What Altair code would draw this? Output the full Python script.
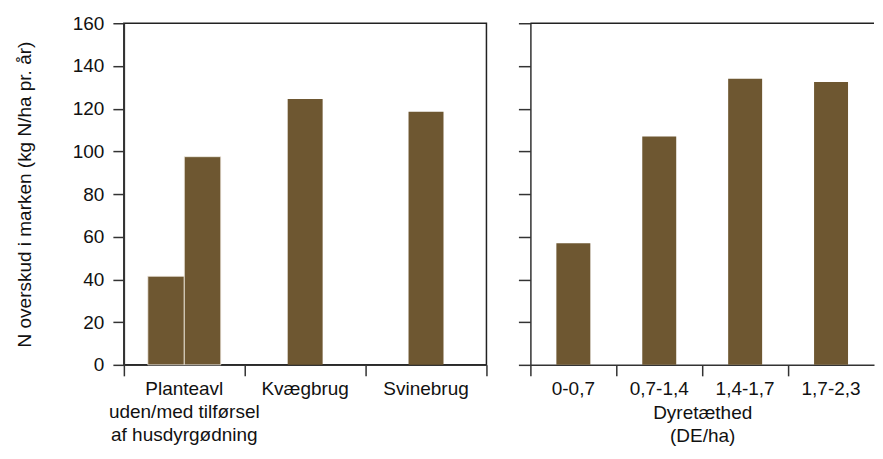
import altair as alt
import pandas as pd

# Data
groups = ["Planteavl|uden/med tilførsel|af husdyrgødning", "Kvægbrug", "Svinebrug"]
plante_sub = ["uden", "med"]
plante_vals = [41.5, 97.5]
farm_types = ["Kvægbrug", "Svinebrug"]
farm_vals = [124.5, 118.5]
density = ["0-0,7", "0,7-1,4", "1,4-1,7", "1,7-2,3"]
density_vals = [57.0, 107.0, 134.0, 132.5]

y_ticks = list(range(0, 161, 20))
y_top = [160]
BAR = "#6e5731"
FONT = "Liberation Sans"
FS = 19

plante_df = pd.DataFrame({"g": [groups[0]] * 2, "s": plante_sub, "v": plante_vals})
farm_df = pd.DataFrame({"g": farm_types, "v": farm_vals})
dens_df = pd.DataFrame({"d": density, "v": density_vals})
top_df = pd.DataFrame({"v": y_top})

LW, RW, H = 363, 344, 342

x_left = alt.X(
    "g:N",
    scale=alt.Scale(domain=groups, paddingInner=0, paddingOuter=0),
    axis=alt.Axis(title=None, labelAngle=0, bandPosition=1, tickExtra=True,
                  labelExpr="split(datum.label, '|')", tickSize=11,
                  labelPadding=4, labelLineHeight=23, labelOverlap=False),
)
y_left = alt.Y(
    "v:Q",
    scale=alt.Scale(domain=[0, 160], nice=False),
    axis=alt.Axis(values=y_ticks, title="N overskud i marken (kg N/ha pr. år)",
                  tickSize=11, labelPadding=9, titlePadding=38, grid=False),
)

pair = alt.Chart(plante_df).mark_bar(color=BAR, stroke="#f3eee4", strokeWidth=0.8).encode(
    x=x_left,
    xOffset=alt.XOffset("s:N", scale=alt.Scale(domain=plante_sub, paddingOuter=0.657, paddingInner=0)),
    y=y_left,
)
singles = alt.Chart(farm_df).mark_bar(color=BAR, size=35).encode(x=x_left, y=y_left)
left = alt.layer(pair, singles).properties(width=LW, height=H)

y_right = alt.Y("v:Q", scale=alt.Scale(domain=[0, 160], nice=False),
                axis=alt.Axis(values=y_ticks, labels=False, title=None, tickSize=12, grid=False))
right_bars = alt.Chart(dens_df).mark_bar(color=BAR, size=34).encode(
    x=alt.X("d:N", scale=alt.Scale(domain=density, paddingInner=0, paddingOuter=0),
            axis=alt.Axis(title=["Dyretæthed", "(DE/ha)"], labelAngle=0, bandPosition=0,
                          tickSize=11, labelPadding=4,
                          titlePadding=5, titleLineHeight=23, labelOverlap=False)),
    y=y_right,
)
right_top = alt.Chart(top_df).mark_rule(color="#222", strokeWidth=1.5).encode(y=y_right)
right = alt.layer(right_bars, right_top).properties(
    width=RW, height=H, view=alt.ViewConfig(stroke=None)
)

chart = alt.hconcat(left, right, spacing=29).properties(
    padding={"left": 6, "top": 5, "right": 0, "bottom": 0}
).configure_view(stroke="#222", strokeWidth=1.5).configure_axis(
    labelFont=FONT, titleFont=FONT, labelFontSize=FS, titleFontSize=FS,
    titleFontWeight="normal", labelColor="#111", titleColor="#111",
    domainColor="#333", domainWidth=1.5, tickColor="#333", tickWidth=1.5,
)

chart.save("out.html", embed_options={"renderer": "svg", "actions": False})
